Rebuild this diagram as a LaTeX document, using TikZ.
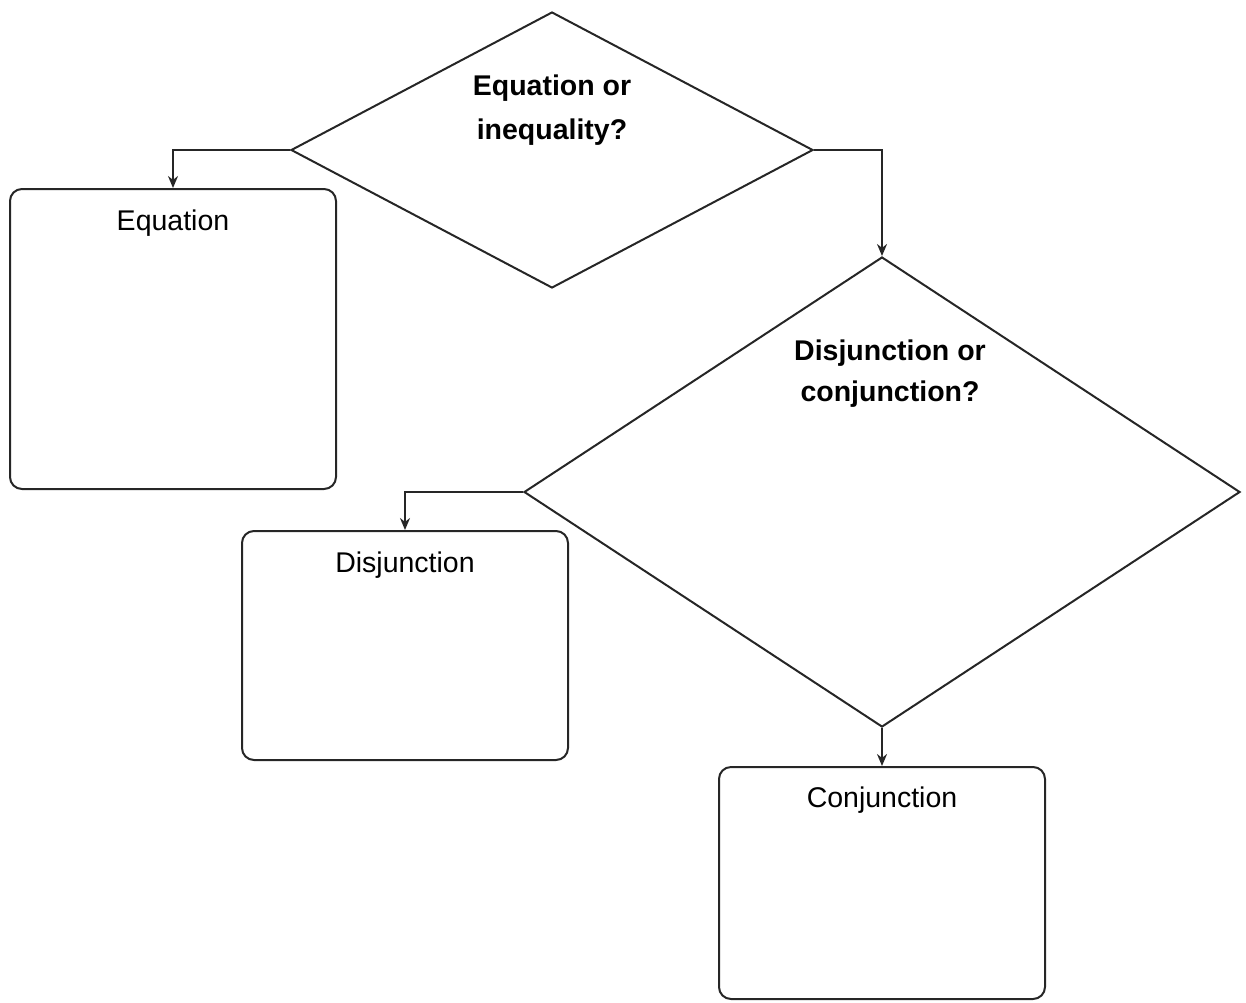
\documentclass[tikz,border=0pt]{standalone}
\usepackage{fontspec}
\setmainfont{Liberation Sans}
\usetikzlibrary{shapes.geometric,arrows.meta}
\begin{document}
\begin{tikzpicture}[x=1pt,y=-1pt,
  line width=2pt, draw=black!85,
  decision/.style={diamond,draw,inner sep=0pt,line width=2pt},
  box/.style={rectangle,draw,rounded corners=12pt,inner sep=0pt,line width=2pt,minimum width=326pt},
  lbl/.style={inner sep=0pt,font=\fontsize{28.5}{34}\selectfont},
  qlbl/.style={inner sep=0pt,align=center,font=\fontsize{28.5}{44}\selectfont\bfseries},
  conn/.style={line width=2pt,-{Stealth[length=12pt,width=10pt]}}]
\useasboundingbox (0,0) rectangle (1246,1002);
\node[decision,minimum width=522pt,minimum height=276pt] (d1) at (552,150) {};
\node[decision,minimum width=716pt,minimum height=470pt] (d2) at (882,492) {};
\node[box,minimum height=300pt] (eq) at (173,339) {};
\node[box,minimum height=229pt] (dis) at (405,645.5) {};
\node[box,minimum height=232pt] (con) at (882,883) {};
\node[qlbl] (t1) at (552,110) {Equation or\\inequality?};
\node[qlbl,font=\fontsize{28.5}{41}\selectfont\bfseries] (t2) at (890,374) {Disjunction or\\conjunction?};
\node[lbl] (teq) at (173,223) {Equation};
\node[lbl] (tdis) at (405,565) {Disjunction};
\node[lbl] (tcon) at (882,800) {Conjunction};
\draw[conn] (d1.west) -| (eq.north);
\draw[conn] (d1.east) -| (d2.north);
\draw[conn] (d2.west) -| (dis.north);
\draw[conn] (d2.south) -- (con.north);
\end{tikzpicture}
\end{document}
